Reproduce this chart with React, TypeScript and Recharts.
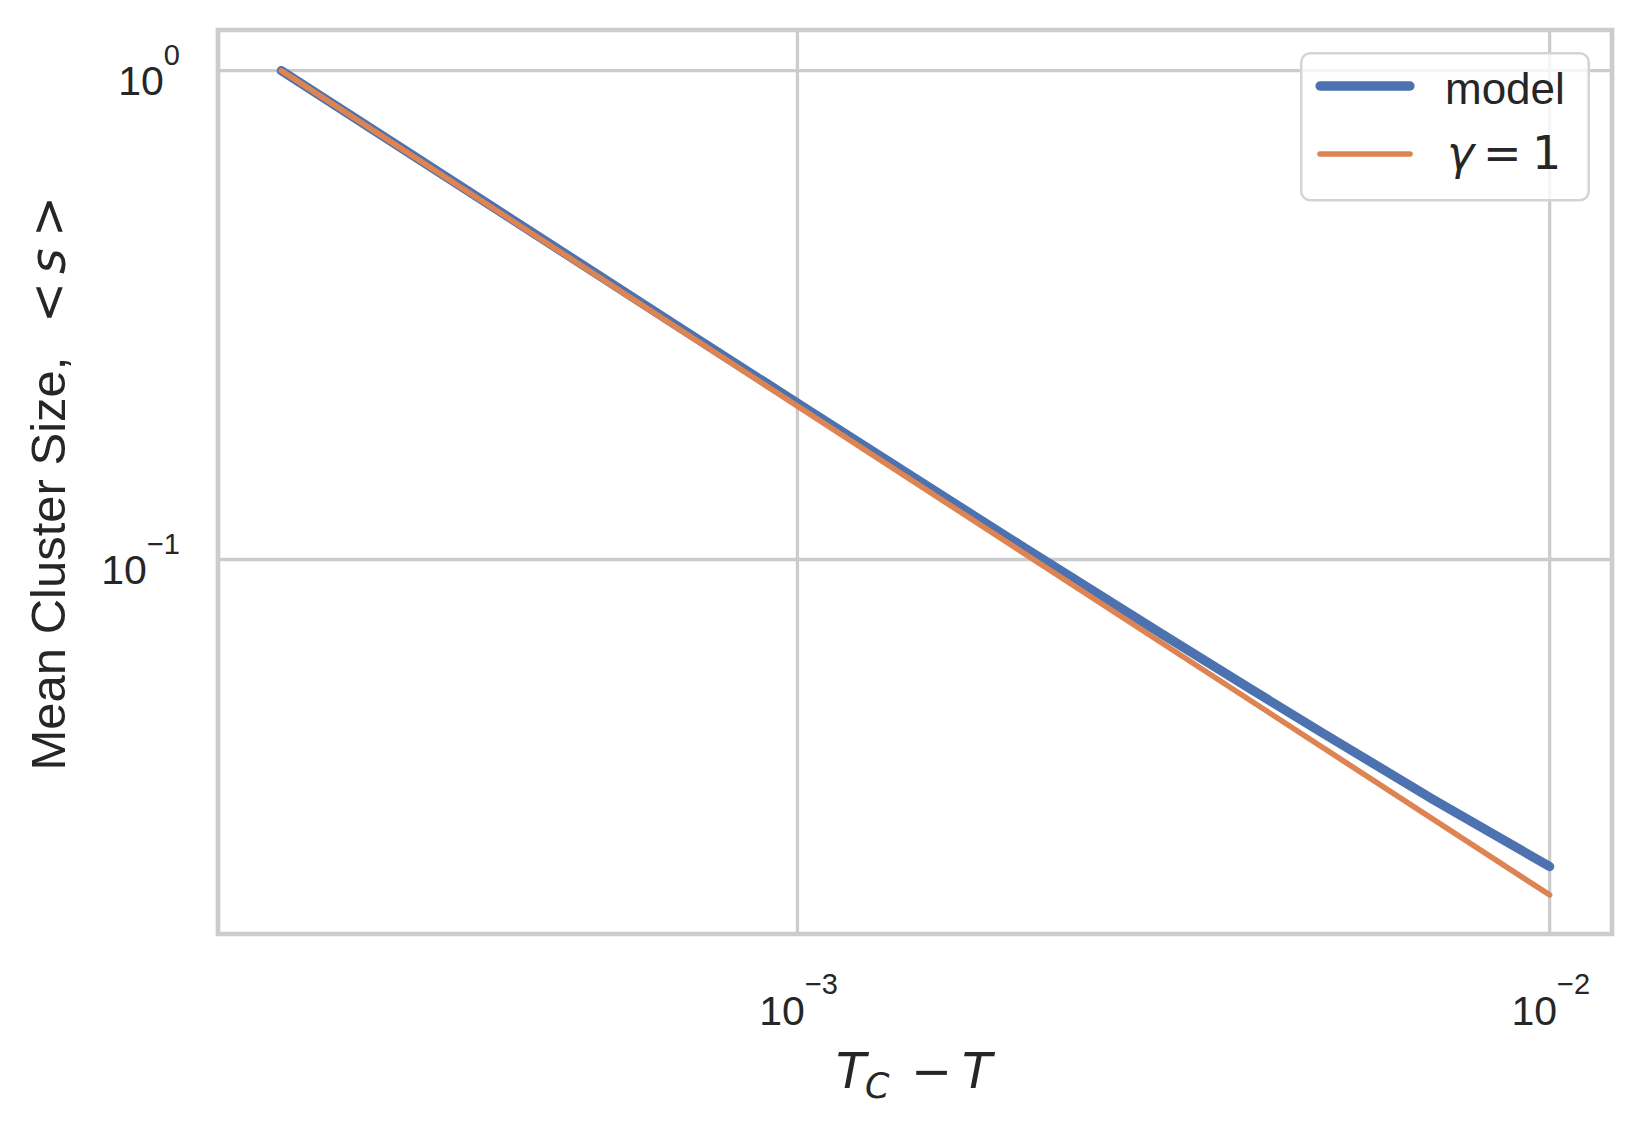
import { LineChart, Line, XAxis, YAxis, CartesianGrid, Legend, ReferenceArea } from 'recharts';

// T_C - T values and mean cluster size
const modelX = [0.000206, 0.0003, 0.0005, 0.0007, 0.001, 0.0015, 0.002, 0.003, 0.004, 0.005, 0.007, 0.01];
const modelY = [1.0, 0.689, 0.415, 0.297, 0.2089, 0.1402, 0.1059, 0.0716, 0.0544, 0.0441, 0.0323, 0.02355];

// gamma = 1 reference line
const gammaX = [0.000206, 0.001, 0.01];
const gammaY = [1.0, 0.206, 0.0206];

const xTicks = [0.001, 0.01];
const yTicks = [0.1, 1];
const xDomain = [0.0001697, 0.012104];
const yDomain = [0.01714, 1.211];

const modelData = modelX.map((x, i) => ({ x, y: modelY[i] }));
const gammaData = gammaX.map((x, i) => ({ x, y: gammaY[i] }));

const BLUE = '#4c72b0';
const ORANGE = '#dd8452';
const GRID = '#cccccc';
const TEXT = '#262626';
const SANS = '"Liberation Sans", Arial, sans-serif';
const MATH = '"DejaVu Sans", sans-serif';

const exponent = (v: number) => {
  const e = Math.round(Math.log10(v));
  return e < 0 ? `\u2212${-e}` : `${e}`;
};

const XTick = ({ x, y, payload }: any) => (
  <g fill={TEXT} fontFamily={SANS}>
    <text x={x + 7.5} y={y + 91} textAnchor="end" fontSize={41}>10</text>
    <text x={x + 7.5} y={y + 60} textAnchor="start" fontSize={29}>{exponent(payload.value)}</text>
  </g>
);

const YTick = ({ x, y, payload }: any) => (
  <text x={x - 38} y={y + 24} textAnchor="end" fill={TEXT} fontFamily={SANS} fontSize={41}>
    <tspan>10</tspan>
    <tspan dy={-30} fontSize={29}>{exponent(payload.value)}</tspan>
  </text>
);

const XLabel = () => (
  <g fill={TEXT} fontFamily={MATH}>
    <text x={836} y={1088} fontSize={49} fontStyle="italic">T</text>
    <text x={865} y={1098} fontSize={35} fontStyle="italic">C</text>
    <text x={911} y={1088} fontSize={49}>{'\u2212'}</text>
    <text x={962} y={1088} fontSize={49} fontStyle="italic">T</text>
  </g>
);

const YLabel = () => (
  <g transform="rotate(-90)" fill={TEXT}>
    <text x={-770.5} y={65} fontSize={49} fontFamily={SANS}>Mean Cluster Size,</text>
    <text x={-323} y={65} fontSize={49} fontFamily={MATH}>&lt;</text>
    <text x={-274} y={65} fontSize={49} fontFamily={MATH} fontStyle="italic">s</text>
    <text x={-237} y={65} fontSize={49} fontFamily={MATH}>&gt;</text>
  </g>
);

const LegendBox = () => (
  <svg width={290} height={150} style={{ display: 'block' }}>
    <rect x={1.25} y={1.25} width={287.5} height={147} rx={9} fill="#fff" fillOpacity={0.8} stroke="#d4d4d4" strokeWidth={2.5} />
    <line x1={20} x2={110} y1={34} y2={34} stroke={BLUE} strokeWidth={9.3} strokeLinecap="round" />
    <text x={145} y={52} fontSize={44} fontFamily={SANS} fill={TEXT}>model</text>
    <line x1={20} x2={110} y1={102} y2={102} stroke={ORANGE} strokeWidth={5.6} strokeLinecap="round" />
    <g fill={TEXT} fontFamily={MATH} fontSize={46}>
      <text x={147} y={117} fontStyle="italic">γ</text>
      <text x={183} y={117}>=</text>
      <text x={232} y={117}>1</text>
    </g>
  </svg>
);

export default function App() {
  return (
    <div style={{ position: 'fixed', left: 0, top: 0, width: 1643, height: 1130, background: '#fff' }}>
      <LineChart width={1643} height={1130} margin={{ top: 30, right: 31, bottom: 0, left: 0 }}>
        <CartesianGrid stroke={GRID} strokeWidth={3.3} />
        <XAxis
          type="number"
          dataKey="x"
          scale="log"
          domain={xDomain}
          allowDataOverflow
          ticks={xTicks}
          interval={0}
          height={196}
          axisLine={false}
          tickLine={false}
          tickSize={0}
          tickMargin={0}
          tick={<XTick />}
          label={<XLabel />}
        />
        <YAxis
          type="number"
          dataKey="y"
          scale="log"
          domain={yDomain}
          allowDataOverflow
          ticks={yTicks}
          interval={0}
          width={218}
          axisLine={false}
          tickLine={false}
          tickSize={0}
          tickMargin={0}
          tick={<YTick />}
          label={<YLabel />}
        />
        <ReferenceArea
          x1={xDomain[0]}
          x2={xDomain[1]}
          y1={yDomain[0]}
          y2={yDomain[1]}
          fill="none"
          stroke={GRID}
          strokeWidth={4.7}
        />
        <Line
          data={modelData}
          dataKey="y"
          type="linear"
          stroke={BLUE}
          strokeWidth={9.3}
          strokeLinecap="round"
          strokeLinejoin="round"
          dot={false}
          activeDot={false}
          isAnimationActive={false}
        />
        <Line
          data={gammaData}
          dataKey="y"
          type="linear"
          stroke={ORANGE}
          strokeWidth={5.6}
          strokeLinecap="round"
          strokeLinejoin="round"
          dot={false}
          activeDot={false}
          isAnimationActive={false}
        />
        <Legend
          layout="horizontal"
          verticalAlign="middle"
          align="center"
          wrapperStyle={{ left: 1300, top: 52, width: 290, height: 150 }}
          content={() => <LegendBox />}
        />
      </LineChart>
    </div>
  );
}
